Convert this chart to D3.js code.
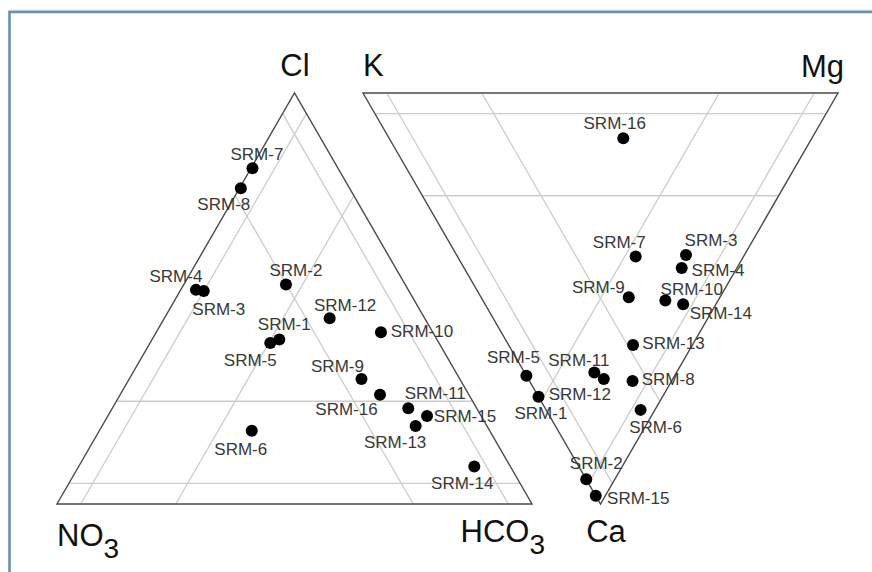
<!DOCTYPE html>
<html><head><meta charset="utf-8">
<script src="https://cdn.jsdelivr.net/npm/d3@7"></script>
<style>body{margin:0;background:#fff}</style>
</head><body><svg id="c" width="872" height="572"></svg>
<script>
// ---------- data ----------
const samples = ["SRM-1","SRM-2","SRM-3","SRM-4","SRM-5","SRM-6","SRM-7","SRM-8",
                 "SRM-9","SRM-10","SRM-11","SRM-12","SRM-13","SRM-14","SRM-15","SRM-16"];
// anions (%)
const anionCl   = [40.0, 53.4, 51.8, 52.1, 39.2, 17.8, 81.7, 76.8, 30.4, 41.8, 23.3, 45.2, 19.0,  9.1, 21.4, 26.6];
const anionHCO3 = [26.8, 21.5,  5.0,  3.2, 25.3, 32.1,  0.3,  0.3, 48.9, 47.3, 62.3, 34.8, 66.0, 83.3, 67.2, 54.7];
const anionNO3  = [33.2, 25.1, 43.2, 44.7, 35.5, 50.1, 18.0, 22.9, 20.7, 10.9, 14.4, 20.0, 15.0,  7.6, 11.4, 18.7];
// cations (%)
const cationK   = [26.1,  6.0, 12.3, 11.6, 31.2,  3.0, 22.7,  8.2, 19.2, 11.1, 17.3, 14.5, 12.5,  6.9,  2.0, 39.7];
const cationMg  = [ 0.0,  0.0, 48.3, 45.8,  0.0, 19.9, 37.5, 21.7, 31.1, 38.4, 14.7, 15.9, 26.2, 41.7,  0.0, 49.3];
const cationCa  = [73.9, 94.0, 39.4, 42.6, 68.8, 77.1, 39.8, 70.1, 49.7, 50.5, 68.0, 69.6, 61.3, 51.4, 98.0, 11.0];
const gridLevels = [5, 25];

// ---------- label layout (offsets from dot, px) ----------
const anionLabelDx  = [  5,  10,  15, -20, -20, -11, 4.5, -17, -24,  41,  27, 15.5, -20.5, -12,  38, -33.5];
const anionLabelDy  = [-9.5, -9,  24,  -8,  23,  24, -8.5, 22, -7.5, 4.5, -9.3, -7.5, 22,  22, 5.7, 20.5];
const cationLabelDx = [2.4,  10,  25, 36.3, -13,  15, -16.4, 35.6, -30.4, 26.4, -15.5, -24, 40.5, 37.7, 42.5, -8.6];
const cationLabelDy = [22.6, -10, -9.3, 7.7, -13, 23.3, -9,  4.3,  -4, -5.7,  -6,  21,  4.3,  15,   8,  -9];

const svg = d3.select("#c");

// ---------- scales ----------
const anionBase   = d3.scaleLinear().domain([0,100]).range([57,532]);
const anionHeight = d3.scaleLinear().domain([0,100]).range([504,93]);
const cationTop   = d3.scaleLinear().domain([0,100]).range([363,838]);
const cationDepth = d3.scaleLinear().domain([0,100]).range([93,504]);
const anionXY  = (cl, hco3) => [anionBase(hco3 + cl/2), anionHeight(cl)];
const cationXY = (mg, ca)  => [cationTop(mg + ca/2), cationDepth(ca)];

// ---------- frame ----------
svg.append("path").attr("d","M9.5,572V10.2H872").attr("fill","none")
   .attr("stroke","#cfdbe4").attr("stroke-width",1.2);
svg.append("path").attr("d","M9.5,572V12H872").attr("fill","none")
   .attr("stroke","#6a8eab").attr("stroke-width",2.6);

const line = d3.line();

// ---------- grid ----------
const gridG = svg.append("g").attr("stroke","#cccccc").attr("stroke-width",1.3).attr("fill","none");
gridLevels.forEach(p => {
  // anion
  [[anionXY(p,0), anionXY(p,100-p)],
   [anionXY(0,p), anionXY(100-p,p)],
   [anionXY(0,100-p), anionXY(100-p,0)]].forEach(s => gridG.append("path").attr("d", line(s)));
  // cation
  [[cationXY(0,p), cationXY(100-p,p)],
   [cationXY(p,0), cationXY(p,100-p)],
   [cationXY(100-p,0), cationXY(0,100-p)]].forEach(s => gridG.append("path").attr("d", line(s)));
});

// ---------- outlines ----------
const outG = svg.append("g").attr("stroke","#4a4a4a").attr("stroke-width",1.4).attr("fill","none")
  .attr("stroke-linejoin","miter");
outG.append("path").attr("d", line([anionXY(0,0), anionXY(0,100), anionXY(100,0)]) + "Z");
outG.append("path").attr("d", line([cationXY(0,0), cationXY(100,0), cationXY(0,100)]) + "Z");

// ---------- points ----------
const anionPts  = samples.map((s,i) => ({name:s, p:anionXY(anionCl[i], anionHCO3[i]), dx:anionLabelDx[i], dy:anionLabelDy[i]}));
const cationPts = samples.map((s,i) => ({name:s, p:cationXY(cationMg[i], cationCa[i]), dx:cationLabelDx[i], dy:cationLabelDy[i]}));

[anionPts, cationPts].forEach(pts => {
  svg.append("g").selectAll("circle").data(pts).join("circle")
    .attr("cx", d => d.p[0]).attr("cy", d => d.p[1]).attr("r", 6).attr("fill", "#000");
  svg.append("g").selectAll("text").data(pts).join("text")
    .attr("x", d => d.p[0] + d.dx).attr("y", d => d.p[1] + d.dy)
    .attr("text-anchor","middle")
    .attr("font-family","'Liberation Sans', Arial, sans-serif")
    .attr("font-size", 17).attr("fill","#383838")
    .text(d => d.name);
});

// ---------- vertex labels ----------
const vFont = "'Liberation Sans', Arial, sans-serif";
function vlabel(x, y, anchor, main, sub) {
  const t = svg.append("text").attr("x", x).attr("y", y).attr("text-anchor", anchor)
    .attr("font-family", vFont).attr("font-size", 31).attr("fill", "#111");
  t.append("tspan").text(main);
  if (sub) t.append("tspan").attr("dy", 12).attr("font-size", 28).text(sub);
}
vlabel(295, 76, "middle", "Cl");
vlabel(363, 76, "start", "K");
vlabel(844, 77, "end", "Mg");
vlabel(57, 546, "start", "NO", "3");
vlabel(545, 542, "end", "HCO", "3");
vlabel(606, 542, "middle", "Ca");
</script></body></html>
